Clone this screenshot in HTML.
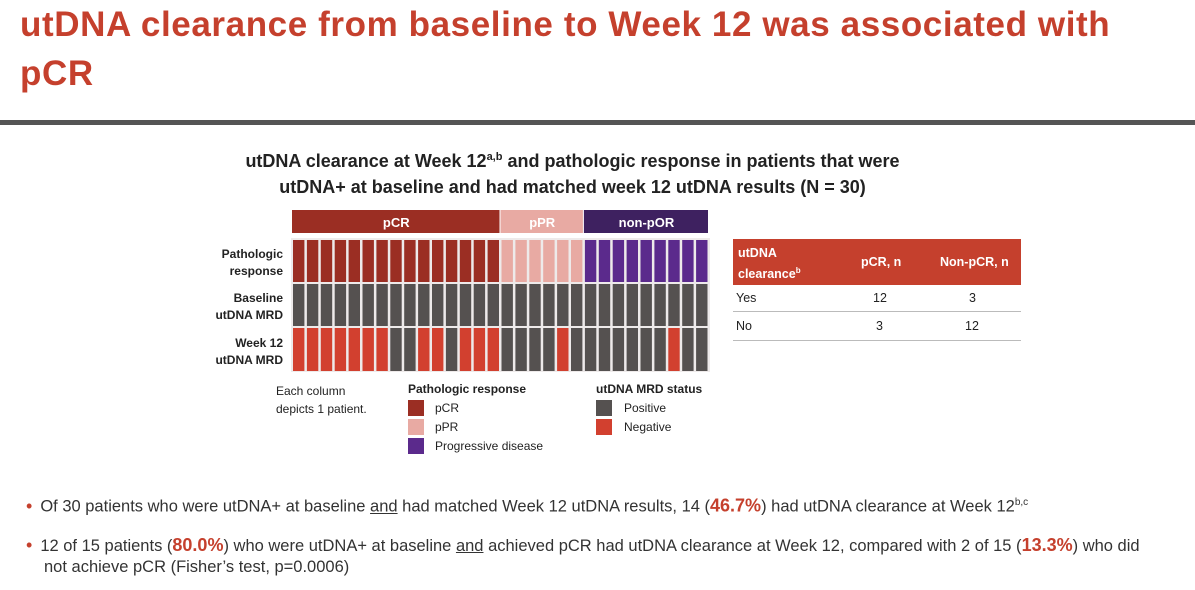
<!DOCTYPE html>
<html><head><meta charset="utf-8"><style>
body{margin:0;width:1195px;height:590px;background:#fff;font-family:"Liberation Sans",sans-serif;position:relative;overflow:hidden;color:#222}
.a{position:absolute;white-space:nowrap}
.title{left:20px;font-size:35px;font-weight:bold;color:#c5402d;letter-spacing:0.6px}
.lbl{font-size:12px;font-weight:bold;text-align:right;width:90px;line-height:17px}
.leg{font-size:12px}
.sw{position:absolute;width:16px;height:16px}
.bul{font-size:16.5px;color:#333;line-height:21px}
.bul b{color:#c5402d;font-size:18px}
.bul .dot{color:#c5402d;margin-right:8px;font-size:18px}
</style></head><body>
<div class="a title" style="top:5px">utDNA clearance from baseline to Week 12 was associated with</div>
<div class="a title" style="top:54px">pCR</div>
<div class="a" style="left:0;top:120px;width:1195px;height:5px;background:#555"></div>
<div class="a" style="left:0;width:1145px;top:144px;text-align:center;font-size:18px;font-weight:bold;line-height:26px">utDNA clearance at Week 12<sup style="font-size:11px">a,b</sup> and pathologic response in patients that were<br>utDNA+ at baseline and had matched week 12 utDNA results (N = 30)</div>

<div class="a lbl" style="left:193px;top:246px">Pathologic<br>response</div>
<div class="a lbl" style="left:193px;top:290px">Baseline<br>utDNA MRD</div>
<div class="a lbl" style="left:193px;top:335px">Week 12<br>utDNA MRD</div>

<svg class="a" style="left:0;top:0" width="1195" height="590" id="chart"></svg>

<div class="a leg" style="left:276px;top:382px;line-height:18px">Each column<br>depicts 1 patient.</div>
<div class="a leg" style="left:408px;top:382px;font-weight:bold">Pathologic response</div>
<div class="sw" style="left:408px;top:400px;background:#9b2e23"></div>
<div class="a leg" style="left:435px;top:401px">pCR</div>
<div class="sw" style="left:408px;top:419px;background:#e8aaa3"></div>
<div class="a leg" style="left:435px;top:420px">pPR</div>
<div class="sw" style="left:408px;top:438px;background:#5b2a8c"></div>
<div class="a leg" style="left:435px;top:439px">Progressive disease</div>
<div class="a leg" style="left:596px;top:382px;font-weight:bold">utDNA MRD status</div>
<div class="sw" style="left:596px;top:400px;background:#555150"></div>
<div class="a leg" style="left:624px;top:401px">Positive</div>
<div class="sw" style="left:596px;top:419px;background:#d2402f"></div>
<div class="a leg" style="left:624px;top:420px">Negative</div>

<div class="a" style="left:733px;top:239px;width:288px;height:46px;background:#c5402d;color:#fff;font-weight:bold;font-size:12.5px">
<div class="a" style="left:5px;top:6px;line-height:17px">utDNA<br>clearance<sup style="font-size:8px">b</sup></div>
<div class="a" style="left:128px;top:16px">pCR, n</div>
<div class="a" style="left:207px;top:16px">Non-pCR, n</div></div>
<div class="a" style="left:736px;top:291px;font-size:12.5px">Yes</div>
<div class="a" style="left:873px;top:291px;font-size:12.5px">12</div>
<div class="a" style="left:969px;top:291px;font-size:12.5px">3</div>
<div class="a" style="left:733px;top:311px;width:288px;height:1px;background:#bbb"></div>
<div class="a" style="left:736px;top:319px;font-size:12.5px">No</div>
<div class="a" style="left:876px;top:319px;font-size:12.5px">3</div>
<div class="a" style="left:965px;top:319px;font-size:12.5px">12</div>
<div class="a" style="left:733px;top:340px;width:288px;height:1px;background:#bbb"></div>

<div class="a bul" style="left:26px;top:492px"><span class="dot">•</span>Of 30 patients who were utDNA+ at baseline <u>and</u> had matched Week 12 utDNA results, 14 (<b>46.7%</b>) had utDNA clearance at Week 12<sup style="font-size:10px">b,c</sup></div>
<div class="a bul" style="left:26px;top:535px"><span class="dot">•</span>12 of 15 patients (<b>80.0%</b>) who were utDNA+ at baseline <u>and</u> achieved pCR had utDNA clearance at Week 12, compared with 2 of 15 (<b>13.3%</b>) who did<br><span style="margin-left:18px">not achieve pCR (Fisher’s test, p=0.0006)</span></div>

<script>
const groups=["pCR","pPR","non-pOR"];
const groupCounts=[15,6,9];
const week12Negative=[1,1,1,1,1,1,1,0,0,1,1,0,1,1,1, 0,0,0,0,1,0, 0,0,0,0,0,0,1,0,0];
const baselinePositive=[1,1,1,1,1,1,1,1,1,1,1,1,1,1,1,1,1,1,1,1,1,1,1,1,1,1,1,1,1,1];
const respColor={"pCR":"#9b2e23","pPR":"#e8aaa3","non-pOR":"#5b2a8c"};
const headColor={"pCR":"#9b2e23","pPR":"#e8aaa3","non-pOR":"#3e2160"};
const svg=document.getElementById('chart');
const NS="http://www.w3.org/2000/svg";
const x0=292,x1=709,n=week12Negative.length,cw=(x1-x0)/n;
const xs=i=>x0+i*cw;
function rect(x,y,w,h,f,name){const r=document.createElementNS(NS,'rect');r.setAttribute('x',x);r.setAttribute('y',y);r.setAttribute('width',w);r.setAttribute('height',h);r.setAttribute('fill',f);


svg.appendChild(r);return r;}
rect(x0-1,238,x1-x0+2,134,'#eeeaea','grid-background');
let idx=0;const resp=[];
groups.forEach((g,gi)=>{const s=idx;for(let k=0;k<groupCounts[gi];k++){resp.push(g);idx++;}
rect(xs(s),210,cw*groupCounts[gi]-1,23,headColor[g],'group-header-'+g);
const t=document.createElementNS(NS,'text');t.setAttribute('x',xs(s)+cw*groupCounts[gi]/2);t.setAttribute('y',227);t.setAttribute('text-anchor','middle');t.setAttribute('fill','#fff');t.setAttribute('font-size','13');t.setAttribute('font-weight','bold');t.setAttribute('font-family','Liberation Sans, sans-serif');t.textContent=g;


svg.appendChild(t);});
for(let i=0;i<n;i++){const x=xs(i)+1,w=cw-2.5;
rect(x,240,w,42,respColor[resp[i]],'response-cell');
rect(x,284,w,42,baselinePositive[i]?'#555150':'#d2402f','baseline-cell');
rect(x,328,w,43,week12Negative[i]?'#d2402f':'#555150','week12-cell');}
</script>
</body></html>
